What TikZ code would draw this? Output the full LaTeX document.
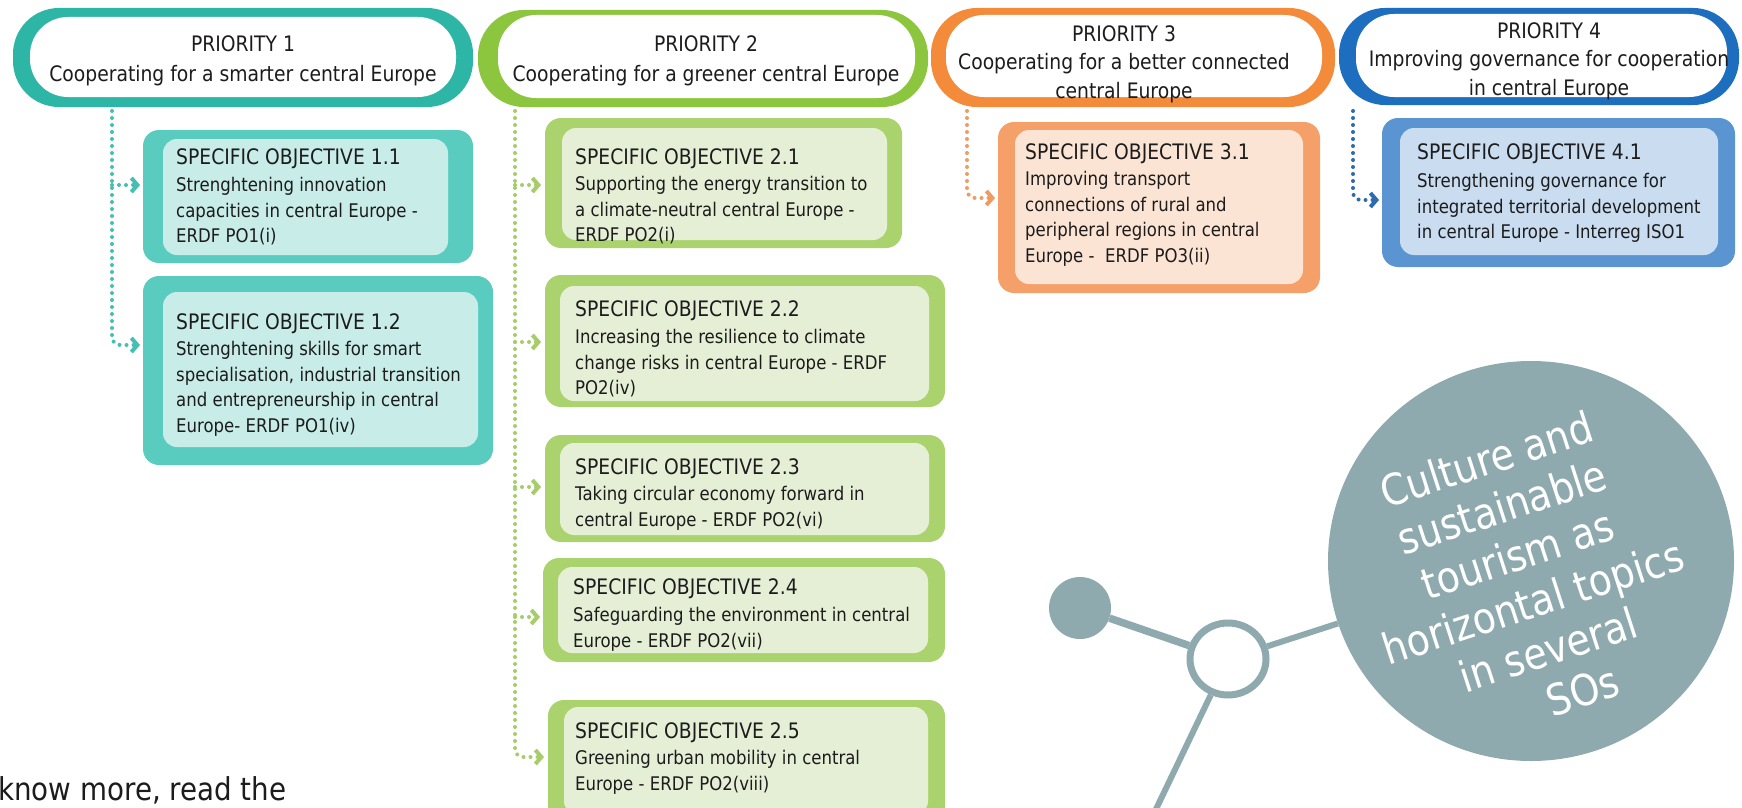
\documentclass[tikz,border=0pt]{standalone}
\usepackage{fontspec}
\setmainfont[FakeStretch=0.88]{DejaVu Sans}
\usetikzlibrary{arrows.meta,shapes.geometric}
\definecolor{tealP}{HTML}{2DB5A6}
\definecolor{tealO}{HTML}{5ACCBF}
\definecolor{tealI}{HTML}{C8ECE8}
\definecolor{tealD}{HTML}{45BFB2}
\definecolor{greenP}{HTML}{8CC63F}
\definecolor{greenO}{HTML}{AAD36E}
\definecolor{greenI}{HTML}{E5EFD6}
\definecolor{greenD}{HTML}{A6CD6A}
\definecolor{orangeP}{HTML}{F48B3B}
\definecolor{orangeO}{HTML}{F4A068}
\definecolor{orangeI}{HTML}{FCE4D5}
\definecolor{orangeD}{HTML}{EF9C62}
\definecolor{blueP}{HTML}{1D6EBF}
\definecolor{blueO}{HTML}{5A95D1}
\definecolor{blueI}{HTML}{CADDF0}
\definecolor{blueD}{HTML}{2D6AB0}
\definecolor{hub}{HTML}{8FAAAF}
\definecolor{txt}{HTML}{1C1C1C}
\newcommand\titlef{\fontsize{21.3}{25.5}\selectfont}
\newcommand\bodyf{\fontsize{18.8}{25.5}\selectfont}
\begin{document}
\begin{tikzpicture}[x=1pt,y=-1pt,
  pill/.style={rectangle, rounded corners=46pt, inner sep=0pt},
  sobox/.style={rectangle, rounded corners=16pt, inner sep=0pt},
  ptext/.style={anchor=north, align=center, inner sep=0pt, text=txt, font=\fontsize{21.3}{30}\selectfont},
  ptextb/.style={ptext, font=\fontsize{21.3}{28.5}\selectfont},
  sotext/.style={anchor=north west, align=left, inner sep=0pt, text=txt, font=\bodyf},
  dotp/.style={line width=4pt, line cap=round, dash pattern=on 0pt off 7pt, -{Straight Barb[length=6pt,width=14pt]}},
  hubline/.style={draw=hub, line width=6pt}
]
\useasboundingbox (0,0) rectangle (1742,808);
\clip (0,0) rectangle (1742,808);
\fill[white] (0,0) rectangle (1742,808);

% ---------- Priority pills ----------
\node[pill, fill=tealP, minimum width=460pt, minimum height=99pt] (p1) at (243,57.5) {};
\fill[white, rounded corners=38pt] (30,17) rectangle (456,97);
\node[ptext] (p1t) at (243,35) {PRIORITY 1\\Cooperating for a smarter central Europe};

\node[pill, fill=greenP, minimum width=450pt, minimum height=97pt] (p2) at (703,58.5) {};
\fill[white, rounded corners=38pt] (498,15) rectangle (915,98);
\node[ptext] (p2t) at (706,35) {PRIORITY 2\\Cooperating for a greener central Europe};

\node[pill, fill=orangeP, minimum width=404pt, minimum height=99pt] (p3) at (1133,57.5) {};
\fill[white, rounded corners=38pt] (946,15) rectangle (1322,97);
\node[ptextb] (p3t) at (1124,25) {PRIORITY 3\\Cooperating for a better connected\\central Europe};

\node[pill, fill=blueP, minimum width=400pt, minimum height=97pt] (p4) at (1539,56.5) {};
\fill[white, rounded corners=38pt] (1356,14) rectangle (1727,97);
\node[ptextb] (p4t) at (1549,22) {PRIORITY 4\\Improving governance for cooperation\\in central Europe};

% ---------- Specific objective boxes ----------
\node[sobox, fill=tealO, minimum width=330pt, minimum height=133pt] (so11) at (308,196.5) {};
\fill[tealI, rounded corners=14pt] (163,139) rectangle (448,255);
\node[sotext] (so11t) at (176,148) {{\titlef SPECIFIC OBJECTIVE 1.1}\\[2pt]Strenghtening innovation\\capacities in central Europe -\\ERDF PO1(i)};

\node[sobox, fill=tealO, minimum width=350pt, minimum height=189pt] (so12) at (318,370.5) {};
\fill[tealI, rounded corners=14pt] (163,292) rectangle (478,447);
\node[sotext] (so12t) at (176,313) {{\titlef SPECIFIC OBJECTIVE 1.2}\\[1pt]Strenghtening skills for smart\\specialisation, industrial transition\\and entrepreneurship in central\\Europe- ERDF PO1(iv)};

\node[sobox, fill=greenO, minimum width=357pt, minimum height=130pt] (so21) at (723.5,183) {};
\fill[greenI, rounded corners=14pt] (562,128) rectangle (887,240);
\node[sotext] (so21t) at (575,148) {{\titlef SPECIFIC OBJECTIVE 2.1}\\[1pt]Supporting the energy transition to\\a climate-neutral central Europe -\\ERDF PO2(i)};

\node[sobox, fill=greenO, minimum width=400pt, minimum height=132pt] (so22) at (745,341) {};
\fill[greenI, rounded corners=14pt] (560,286) rectangle (929,401);
\node[sotext] (so22t) at (575,300) {{\titlef SPECIFIC OBJECTIVE 2.2}\\[2pt]Increasing the resilience to climate\\change risks in central Europe - ERDF\\PO2(iv)};

\node[sobox, fill=greenO, minimum width=400pt, minimum height=107pt] (so23) at (745,488.5) {};
\fill[greenI, rounded corners=14pt] (560,443) rectangle (929,535);
\node[sotext] (so23t) at (575,458) {{\titlef SPECIFIC OBJECTIVE 2.3}\\[1pt]Taking circular economy forward in\\central Europe - ERDF PO2(vi)};

\node[sobox, fill=greenO, minimum width=402pt, minimum height=104pt] (so24) at (744,610) {};
\fill[greenI, rounded corners=14pt] (558,567) rectangle (928,653);
\node[sotext] (so24t) at (573,578) {{\titlef SPECIFIC OBJECTIVE 2.4}\\[2pt]Safeguarding the environment in central\\Europe - ERDF PO2(vii)};

\node[sobox, fill=greenO, minimum width=397pt, minimum height=130pt] (so25) at (746.5,765) {};
\fill[greenI, rounded corners=14pt] (564,707) rectangle (928,815);
\node[sotext] (so25t) at (575,722) {{\titlef SPECIFIC OBJECTIVE 2.5}\\[1pt]Greening urban mobility in central\\Europe - ERDF PO2(viii)};

\node[sobox, fill=orangeO, minimum width=322pt, minimum height=171pt] (so31) at (1159,207.5) {};
\fill[orangeI, rounded corners=14pt] (1015,130) rectangle (1303,284);
\node[sotext] (so31t) at (1025,143) {{\titlef SPECIFIC OBJECTIVE 3.1}\\[1pt]Improving transport\\connections of rural and\\peripheral regions in central\\Europe - \ ERDF PO3(ii)};

\node[sobox, fill=blueO, minimum width=353pt, minimum height=149pt] (so41) at (1558.5,192.5) {};
\fill[blueI, rounded corners=14pt] (1400,128) rectangle (1718,255);
\node[sotext] (so41t) at (1417,143) {{\titlef SPECIFIC OBJECTIVE 4.1}\\[3pt]Strengthening governance for\\integrated territorial development\\in central Europe - Interreg ISO1};

% ---------- Dotted connectors ----------
\coordinate (k1) at (112,111);
\coordinate (t11) at (140,185);
\coordinate (t12) at (140,345);
\draw[dotp, draw=tealD, rounded corners=8pt] (k1) |- (t12);
\draw[dotp, draw=tealD] (k1 |- t11) -- (t11);

\coordinate (k2) at (515,111);
\coordinate (t21) at (541,185);
\coordinate (t22) at (541,342);
\coordinate (t23) at (541,487);
\coordinate (t24) at (540,617);
\coordinate (t25) at (544,757);
\draw[dotp, draw=greenD, rounded corners=8pt] (k2) |- (t25);
\draw[dotp, draw=greenD] (k2 |- t21) -- (t21);
\draw[dotp, draw=greenD] (k2 |- t22) -- (t22);
\draw[dotp, draw=greenD] (k2 |- t23) -- (t23);
\draw[dotp, draw=greenD] (k2 |- t24) -- (t24);

\coordinate (k3) at (967,111);
\coordinate (t31) at (995,198);
\draw[dotp, draw=orangeD, rounded corners=8pt] (k3) |- (t31);

\coordinate (k4) at (1353,111);
\coordinate (t41) at (1379,200);
\draw[dotp, draw=blueD, rounded corners=8pt] (k4) |- (t41);

% ---------- Hub graphic ----------
\node[ellipse, fill=hub, minimum width=406pt, minimum height=400pt, inner sep=0pt] (big) at (1531,561) {};
\node[circle, fill=hub, minimum size=62pt, inner sep=0pt] (sm) at (1080,608) {};
\node[ellipse, draw=hub, line width=7pt, fill=white, minimum width=76pt, minimum height=72pt, inner sep=0pt] (ho) at (1228,659) {};
\coordinate (bot) at (1146,830);
\draw[hubline, line width=7.5pt] (sm) -- (ho);
\draw[hubline] (ho) -- (big);
\draw[hubline] (ho) -- (bot);
\node[rotate=18, align=center, text=white, inner sep=0pt, font=\fontsize{43}{50}\selectfont] (bigt) at (1525,578) {Culture and\\sustainable\\tourism as\\horizontal topics\\in several\\\hspace*{40pt}SOs};

% ---------- Footer text ----------
\node[anchor=base west, inner sep=0pt, text=txt, font=\fontsize{31.5}{36}\selectfont] (more) at (-2,800) {know more, read the};
\end{tikzpicture}
\end{document}
